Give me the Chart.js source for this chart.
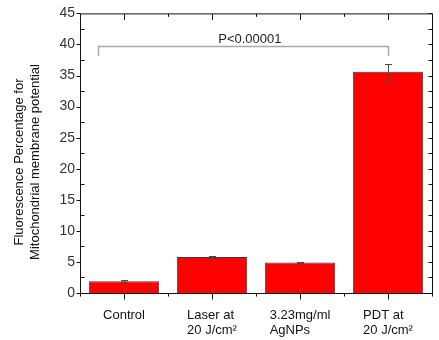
<!DOCTYPE html>
<html>
<head>
<meta charset="utf-8">
<script src="https://cdn.jsdelivr.net/npm/chart.js@4"></script>
<style>
  body { margin: 0; background: #fff; }
</style>
</head>
<body>
<canvas id="grafico" width="439" height="340"></canvas>
<script>
// datos del grafico
const categorias = [['Control'], ['Laser at', '20 J/cm²'], ['3.23mg/ml', 'AgNPs'], ['PDT at', '20 J/cm²']];
const valores = [1.9, 5.8, 4.9, 35.6];
const errores = [0.2, 0.1, 0.08, 1.25];
const yTicks = [0, 5, 10, 15, 20, 25, 30, 35, 40, 45];
const tituloY = ['Fluorescence Percentage for', 'Mitochondrial membrane potential'];
// corchete de significancia (en unidades de datos)
const pTexto = 'P<0.00001';
const pDesde = -0.3, pHasta = 3, pNivel = 39.8, pPata = 38.2, pTextoX = 1.43;

const fuente = "Arial, 'Liberation Sans', sans-serif";

const extras = {
  id: 'extras',
  afterDatasetsDraw(chart) {
    const ctx = chart.ctx;
    const a = chart.chartArea;
    const x = chart.scales.x;
    const y = chart.scales.y;
    ctx.save();

    // barras de error
    ctx.strokeStyle = '#4a4a4a';
    ctx.lineWidth = 1;
    for (let i = 0; i < valores.length; i++) {
      const px = Math.round(x.getPixelForValue(i)) + 0.5;
      const arriba = Math.round(y.getPixelForValue(valores[i] + errores[i])) + 0.5;
      const abajo = Math.round(y.getPixelForValue(valores[i] - errores[i])) + 0.5;
      ctx.beginPath();
      ctx.moveTo(px, arriba); ctx.lineTo(px, abajo);
      ctx.moveTo(px - 3.5, arriba); ctx.lineTo(px + 3.5, arriba);
      ctx.moveTo(px - 3.5, abajo); ctx.lineTo(px + 3.5, abajo);
      ctx.stroke();
    }

    // corchete P
    ctx.strokeStyle = '#a9a9a9';
    ctx.lineWidth = 1.5;
    const x1 = Math.round(x.getPixelForValue(pDesde)) + 0.5;
    const x2 = Math.round(x.getPixelForValue(pHasta)) + 0.5;
    const yn = Math.round(y.getPixelForValue(pNivel)) + 0.5;
    const yp = y.getPixelForValue(pPata);
    ctx.beginPath();
    ctx.moveTo(x1, yp); ctx.lineTo(x1, yn); ctx.lineTo(x2, yn); ctx.lineTo(x2, yp);
    ctx.stroke();
    ctx.fillStyle = '#222';
    ctx.font = '13px ' + fuente;
    ctx.textAlign = 'center';
    ctx.textBaseline = 'bottom';
    ctx.fillText(pTexto, x.getPixelForValue(pTextoX), yn - 1);

    // marco
    ctx.strokeStyle = '#111';
    ctx.lineWidth = 1;
    const L = a.left + 0.5, R = a.right + 0.5, T = a.top + 0.5, B = a.bottom + 0.5;
    ctx.beginPath();
    ctx.rect(L, T, R - L, B - T);
    // marcas eje y (izq fuera, der dentro)
    for (let v = 0; v <= 45; v += 2.5) {
      const py = Math.round(y.getPixelForValue(v)) + 0.5;
      if (v % 5 === 0) {
        ctx.moveTo(L - 4, py); ctx.lineTo(L, py);
      } else {
        ctx.moveTo(L, py); ctx.lineTo(L + 4, py);
      }
      ctx.moveTo(R, py); ctx.lineTo(R - 4, py);
    }
    // marcas eje x
    for (let k = -0.5; k <= categorias.length - 0.5; k += 0.5) {
      const px = Math.round(x.getPixelForValue(k)) + 0.5;
      const largo = Number.isInteger(k) ? 6 : 3;
      ctx.moveTo(px, B); ctx.lineTo(px, B + largo);
      ctx.moveTo(px, T); ctx.lineTo(px, T + largo);
    }
    ctx.stroke();

    // etiquetas del eje x (alineadas a la izquierda dentro del bloque)
    ctx.fillStyle = '#111';
    ctx.textAlign = 'left';
    ctx.textBaseline = 'alphabetic';
    categorias.forEach((lineas, i) => {
      const ancho = Math.max(...lineas.map(t => ctx.measureText(t).width));
      const izq = x.getPixelForValue(i) - ancho / 2;
      lineas.forEach((t, j) => ctx.fillText(t, izq, 319 + j * 15));
    });

    // titulo eje y
    ctx.save();
    ctx.translate(0, 162);
    ctx.rotate(-Math.PI / 2);
    ctx.textAlign = 'center';
    ctx.fillText(tituloY[0], 0, 23);
    ctx.fillText(tituloY[1], 0, 39);
    ctx.restore();

    ctx.restore();
  }
};

new Chart(document.getElementById('grafico'), {
  type: 'bar',
  data: {
    labels: categorias,
    datasets: [{
      data: valores,
      backgroundColor: '#ff0000',
      borderColor: '#3a3a3a',
      borderWidth: 1,
      categoryPercentage: 0.8,
      barPercentage: 1
    }]
  },
  options: {
    responsive: false,
    animation: false,
    layout: { padding: { top: 7, right: 7, left: 0, bottom: 0 } },
    plugins: { legend: { display: false }, tooltip: { enabled: false } },
    scales: {
      x: {
        grid: { display: false },
        border: { display: false },
        ticks: { display: false },
        afterFit: s => { s.height = 47; }
      },
      y: {
        min: 0,
        max: 45,
        grid: { display: false, drawTicks: false },
        border: { display: false },
        afterFit: s => { s.width = 80; },
        afterBuildTicks: s => { s.ticks = yTicks.map(v => ({ value: v })); },
        ticks: {
          padding: 5,
          color: '#333',
          font: { family: fuente, size: 14 }
        }
      }
    }
  },
  plugins: [extras]
});
</script>
</body>
</html>
